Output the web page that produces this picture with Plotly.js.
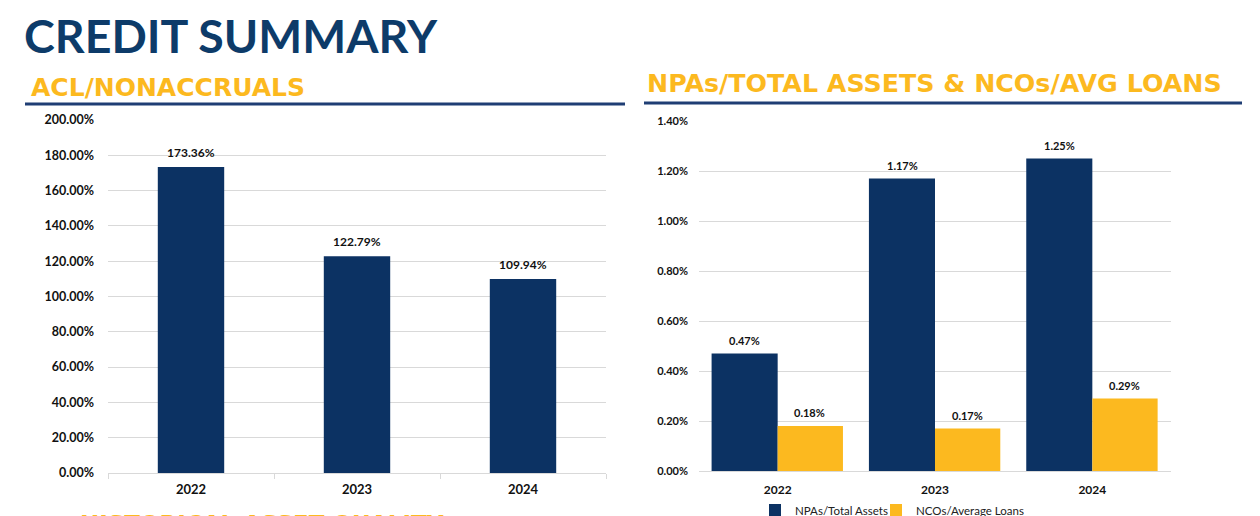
<!DOCTYPE html>
<html>
<head>
<meta charset="utf-8">
<script src="https://cdn.plot.ly/plotly-3.0.1.min.js"></script>
<style>
  html, body { margin: 0; padding: 0; background: #ffffff; }
  #chart { width: 1260px; height: 516px; }
</style>
</head>
<body>
<div id="chart"></div>
<script>
// ---- Data ----
const years = ['2022', '2023', '2024'];
const aclNonaccruals = [173.36, 122.79, 109.94];
const npaTotalAssets = [0.47, 1.17, 1.25];
const ncoAvgLoans = [0.18, 0.17, 0.29];
const seriesNames = ['NPAs/Total Assets', 'NCOs/Average Loans'];
const pageTitle = 'CREDIT SUMMARY';
const leftTitle = 'ACL/NONACCRUALS';
const rightTitle = 'NPAs/TOTAL ASSETS &amp; NCOs/AVG LOANS';
const nextTitle = 'HISTORICAL ASSET QUALITY';

// ---- Styles ----
const NAVY = '#0c3263';
const GOLD = '#fcb91f';
const TITLE_NAVY = '#0d3b69';
const RULE = '#1f3e74';
const GRID = '#d9d9d9';
const FONT = 'Lato, "Open Sans", sans-serif';
const SUBFONT = '"DejaVu Sans", sans-serif';
const W = 1260, H = 516;
const px = v => v / W;
const py = v => (H - v) / H;

const traces = [
  {
    type: 'bar', x: years, y: aclNonaccruals, xaxis: 'x', yaxis: 'y',
    marker: { color: NAVY }, width: 0.4, showlegend: false, hoverinfo: 'skip'
  },
  {
    type: 'bar', name: seriesNames[0], x: years, y: npaTotalAssets, xaxis: 'x2', yaxis: 'y2',
    marker: { color: NAVY }, width: 0.42, offset: -0.42, hoverinfo: 'skip', legend: 'legend'
  },
  {
    type: 'bar', name: seriesNames[1], x: years, y: ncoAvgLoans, xaxis: 'x2', yaxis: 'y2',
    marker: { color: GOLD }, width: 0.415, offset: 0, hoverinfo: 'skip', legend: 'legend2'
  }
];

const annotations = [];
// page title + section titles
annotations.push({ xref: 'paper', yref: 'paper', x: px(22), y: py(35), xanchor: 'left', yanchor: 'middle',
  text: pageTitle, showarrow: false, font: { family: FONT, size: 46.5, weight: 'bold', color: TITLE_NAVY } });
annotations.push({ xref: 'paper', yref: 'paper', x: px(29), y: py(88), xanchor: 'left', yanchor: 'middle',
  text: leftTitle, showarrow: false, font: { family: SUBFONT, size: 25, weight: 'bold', color: GOLD } });
annotations.push({ xref: 'paper', yref: 'paper', x: px(645), y: py(84), xanchor: 'left', yanchor: 'middle',
  text: rightTitle, showarrow: false, font: { family: SUBFONT, size: 25.3, weight: 'bold', color: GOLD } });
annotations.push({ xref: 'paper', yref: 'paper', x: px(78), y: py(524), xanchor: 'left', yanchor: 'middle',
  text: nextTitle, showarrow: false, font: { family: SUBFONT, size: 23, weight: 'bold', color: GOLD } });

// data labels (category index positions)
years.forEach((yr, i) => {
  annotations.push({ xref: 'x', yref: 'y', x: i, y: aclNonaccruals[i], yanchor: 'bottom', yshift: 5,
    text: aclNonaccruals[i].toFixed(2) + '%', showarrow: false,
    font: { family: FONT, size: 12, weight: 'bold', color: '#111' } });
  annotations.push({ xref: 'x2', yref: 'y2', x: i, xshift: -33, y: npaTotalAssets[i], yanchor: 'bottom', yshift: 5,
    text: npaTotalAssets[i].toFixed(2) + '%', showarrow: false,
    font: { family: FONT, size: 11, weight: 'bold', color: '#111' } });
  annotations.push({ xref: 'x2', yref: 'y2', x: i, xshift: 32, y: ncoAvgLoans[i], yanchor: 'bottom', yshift: 5,
    text: ncoAvgLoans[i].toFixed(2) + '%', showarrow: false,
    font: { family: FONT, size: 11, weight: 'bold', color: '#111' } });
});

const shapes = [
  { type: 'line', xref: 'paper', yref: 'paper', x0: px(25), x1: px(625), y0: py(104), y1: py(104),
    line: { color: RULE, width: 3 } },
  { type: 'line', xref: 'paper', yref: 'paper', x0: px(644), x1: px(1242), y0: py(103), y1: py(103),
    line: { color: RULE, width: 3 } }
];

const tickFont = { family: FONT, size: 12.5, weight: 'bold', color: '#111' };
const legendBase = {
  orientation: 'h', xref: 'paper', yref: 'container', y: (H - 510) / H,
  xanchor: 'left', yanchor: 'middle', itemwidth: 30,
  font: { family: FONT, size: 11.5, color: '#222' }, bgcolor: 'rgba(0,0,0,0)'
};
const layout = {
  width: W, height: H, autosize: false,
  margin: { l: 0, r: 0, t: 0, b: 0, autoexpand: false },
  paper_bgcolor: '#fff', plot_bgcolor: '#fff',
  font: { family: FONT },
  barmode: 'group',
  xaxis: {
    domain: [px(108), px(606)], anchor: 'y', type: 'category', range: [-0.5, 2.5], autorange: false,
    showline: true, linecolor: GRID, linewidth: 1, automargin: false, tickangle: 0,
    ticks: 'outside', tickson: 'boundaries', ticklen: 5, tickcolor: GRID, ticklabelstandoff: 4,
    showgrid: false, tickfont: { family: FONT, size: 13, weight: 'bold', color: '#111' }, fixedrange: true
  },
  yaxis: {
    domain: [py(473), py(120)], anchor: 'x', range: [0, 200], autorange: false, dtick: 20,
    tickformat: '.2f', ticksuffix: '%', showgrid: true, gridcolor: GRID, gridwidth: 1,
    zeroline: false, showline: false, ticks: '', ticklabelstandoff: 13, automargin: false,
    tickfont: tickFont, fixedrange: true
  },
  xaxis2: {
    domain: [px(699), px(1171)], anchor: 'y2', type: 'category', range: [-0.5, 2.5], autorange: false,
    showline: true, linecolor: GRID, linewidth: 1, ticks: '', automargin: false, tickangle: 0,
    ticklabelstandoff: 8,
    showgrid: false, tickfont: { family: FONT, size: 12, weight: 'bold', color: '#111' }, fixedrange: true
  },
  yaxis2: {
    domain: [py(471), py(121)], anchor: 'x2', range: [0, 1.4], autorange: false, dtick: 0.2,
    tickformat: '.2f', ticksuffix: '%', showgrid: true, gridcolor: GRID, gridwidth: 1,
    zeroline: false, showline: false, ticks: '', ticklabelstandoff: 10, automargin: false,
    tickfont: { family: FONT, size: 11, weight: 'bold', color: '#111' }, fixedrange: true
  },
  showlegend: true,
  legend: Object.assign({}, legendBase, { x: px(755) }),
  legend2: Object.assign({}, legendBase, { x: px(876) }),
  annotations: annotations,
  shapes: shapes
};

Plotly.newPlot('chart', traces, layout, { staticPlot: true, displayModeBar: false });
</script>
</body>
</html>
